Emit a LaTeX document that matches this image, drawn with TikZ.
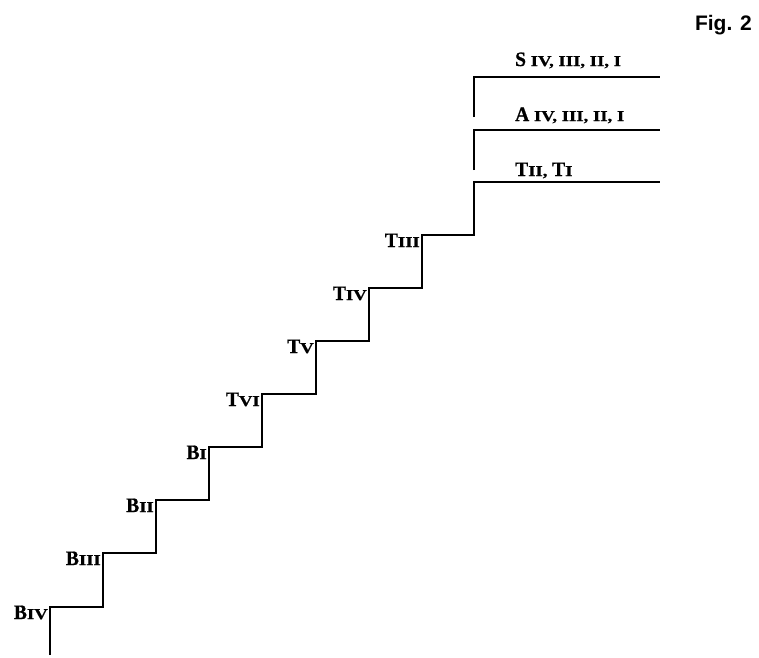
\documentclass[tikz,border=0pt]{standalone}
\usepackage{fontspec}
\setmainfont{Liberation Serif}
\newfontfamily\capfont[FakeStretch=0.95,FakeBold=0.8]{Liberation Serif}
\newfontfamily\numfont[FakeStretch=1.25,FakeBold=0.8]{Liberation Serif}
\newfontfamily\figfont{Liberation Sans}
% a capital letter followed by its (smaller, wide) roman numerals
\newcommand\voicelbl[2]{{\fontsize{20.5}{20.5}\capfont\bfseries #1}{\fontsize{15}{15}\numfont\bfseries #2}}
\begin{document}
\begin{tikzpicture}[x=1pt,y=-1pt,
  stair/.style={line width=1.2pt,line join=miter},
  steplbl/.style={anchor=base east,inner sep=0pt},
  toplbl/.style={anchor=base west,inner sep=0pt}]
\useasboundingbox (0,0) rectangle (759,657);

% corner points of the staircase
\coordinate (s0) at (50,655);
\coordinate (c1) at (50,607);
\coordinate (c2) at (103,553);
\coordinate (c3) at (156,500);
\coordinate (c4) at (209,447);
\coordinate (c5) at (262,394);
\coordinate (c6) at (316,341);
\coordinate (c7) at (369,288);
\coordinate (c8) at (422,235);
\coordinate (c9) at (474,182);
\coordinate (e9) at (660,182);

\draw[stair] (s0) -- (c1) -| (c2) -| (c3) -| (c4) -| (c5) -| (c6) -| (c7) -| (c8) -| (c9) -- (e9);

% upper two voices
\coordinate (a0) at (474,170);
\coordinate (a1) at (474,130);
\coordinate (a2) at (660,130);
\coordinate (b0) at (474,117);
\coordinate (b1) at (474,77);
\coordinate (b2) at (660,77);
\draw[stair] (a0) -- (a1) -- (a2);
\draw[stair] (b0) -- (b1) -- (b2);

% step labels
\node[steplbl] (lb4) at (48,619) {\voicelbl{B}{IV}};
\node[steplbl] (lb3) at (101,565) {\voicelbl{B}{III}};
\node[steplbl] (lb2) at (154,512) {\voicelbl{B}{II}};
\node[steplbl] (lb1) at (207,459) {\voicelbl{B}{I}};
\node[steplbl] (lt6) at (260,406) {\voicelbl{T}{VI}};
\node[steplbl] (lt5) at (314,353) {\voicelbl{T}{V}};
\node[steplbl] (lt4) at (367,300) {\voicelbl{T}{IV}};
\node[steplbl] (lt3) at (420,247) {\voicelbl{T}{III}};

\node[toplbl] (lt21) at (515,176) {\voicelbl{T}{II, }\voicelbl{T}{I}};
\node[toplbl] (la) at (515,121) {\voicelbl{A}{ IV, III, II, I}};
\node[toplbl] (ls) at (515,66) {\voicelbl{S}{ IV, III, II, I}};

\node[anchor=base east,inner sep=0pt] (fig) at (752,30) {\figfont\fontsize{21}{21}\selectfont\bfseries Fig. 2};
\end{tikzpicture}
\end{document}
